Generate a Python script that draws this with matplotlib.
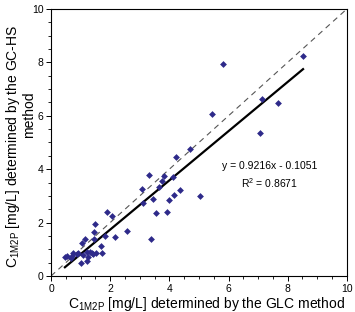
import matplotlib
matplotlib.use("Agg")
import matplotlib.pyplot as plt
import numpy as np
from matplotlib.ticker import MultipleLocator

plt.rcParams["font.family"] = ["Liberation Sans", "DejaVu Sans"]
plt.rcParams["mathtext.fontset"] = "custom"
plt.rcParams["mathtext.rm"] = "Liberation Sans"

# C1M2P by GLC (x) vs by GC-HS (y), mg/L
glc = [0.47, 0.53, 0.67, 0.72, 0.75, 0.89, 0.92, 1.01, 1.04, 1.09, 1.15, 1.2,
       1.2, 1.26, 1.32, 1.37, 1.43, 1.46, 1.46, 1.49, 1.52, 1.69, 1.71, 1.82,
       1.88, 2.06, 2.17, 2.56, 3.08, 3.1, 3.32, 3.38, 3.46, 3.55, 3.65, 3.74,
       3.83, 3.93, 3.99, 4.13, 4.17, 4.24, 4.36, 4.7, 5.03, 5.43, 5.82, 7.05,
       7.14, 7.66, 8.52]
gchs = [0.72, 0.76, 0.66, 0.75, 0.85, 0.81, 0.87, 0.47, 1.25, 0.79, 1.39, 0.91,
        0.56, 0.72, 0.91, 0.85, 0.82, 1.64, 1.37, 1.94, 0.85, 1.13, 0.85, 1.51,
        2.4, 2.24, 1.45, 1.7, 3.25, 2.75, 3.77, 1.39, 2.87, 2.35, 3.35, 3.57,
        3.75, 2.41, 2.85, 3.7, 3.03, 4.47, 3.22, 4.75, 2.98, 6.08, 7.95, 5.37,
        6.62, 6.47, 8.25]

slope = 0.9216
intercept = -0.1051
r2 = 0.8671

fig = plt.figure(figsize=(3.55, 3.12), dpi=100)
ax = fig.add_axes([0.1437, 0.1154, 0.8333, 0.8558])

ax.plot([0, 10], [0, 10], color="#555555", lw=0.8, ls=(0, (5, 4)))
xfit = np.array([min(glc), max(glc)])
ax.plot(xfit, slope * xfit + intercept, color="black", lw=1.6)
ax.scatter(glc, gchs, marker="D", s=12, color="#2E2A8A", zorder=3, linewidths=0)

ax.text(7.4, 4.12, "y = %.4fx - %.4f" % (slope, -intercept), ha="center", va="center", fontsize=7.5)
ax.text(7.4, 3.48, r"R$^{2}$ = %.4f" % r2, ha="center", va="center", fontsize=7.5)

ax.set_xlim(0, 10)
ax.set_ylim(0, 10)
ax.xaxis.set_major_locator(MultipleLocator(2))
ax.yaxis.set_major_locator(MultipleLocator(2))
ax.xaxis.set_minor_locator(MultipleLocator(0.5))
ax.yaxis.set_minor_locator(MultipleLocator(0.5))
ax.tick_params(which="major", direction="out", length=3.5, width=0.7, labelsize=7.5, pad=2)
ax.tick_params(which="minor", direction="out", length=2, width=0.6)
for s in ax.spines.values():
    s.set_linewidth(0.8)

# axis titles placed like the original (second y line sits off-centre)
fig.text(206 / 355, 1 - 308 / 312, r"C$_{\mathregular{1M2P}}$ [mg/L] determined by the GLC method",
         ha="center", va="baseline", fontsize=10)
fig.text(13 / 355, 1 - 146 / 312, r"C$_{\mathregular{1M2P}}$ [mg/L] determined by the GC-HS",
         ha="center", va="center", rotation=90, fontsize=10)
fig.text(29 / 355, 1 - 115 / 312, "method", ha="center", va="center", rotation=90, fontsize=10)

fig.savefig("out.png", dpi=100)
